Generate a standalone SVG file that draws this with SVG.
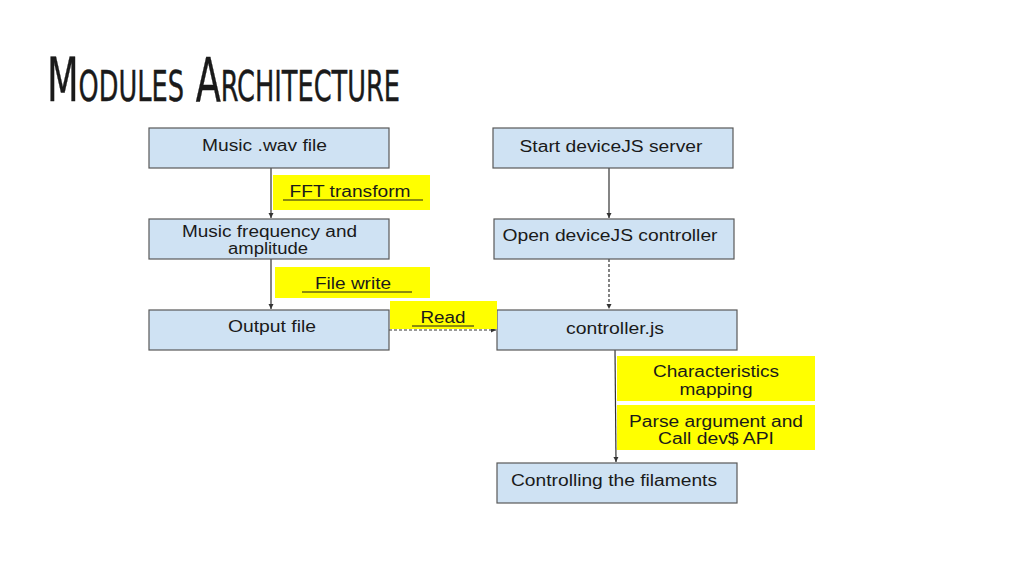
<svg xmlns="http://www.w3.org/2000/svg" width="1024" height="576" viewBox="0 0 1024 576">
<defs>
<marker id="ah" markerWidth="6" markerHeight="6" refX="5" refY="3" orient="auto" markerUnits="userSpaceOnUse">
<path d="M0,0.5 L5,3 L0,5.5 Z" fill="#333"/>
</marker>
<style>
.box{fill:#cfe2f3;stroke:#595959;stroke-width:1.2}
.lbl{fill:#ffff00}
.t{font-family:"Liberation Sans",Arial,sans-serif;font-size:16px;fill:#1a1a1a;text-anchor:middle}
.u{stroke:#1a1a1a;stroke-width:1}
.c{stroke:#333;stroke-width:1.2;fill:none}
.d{stroke-dasharray:3,2}
</style>
</defs>
<rect width="1024" height="576" fill="#ffffff"/>
<text x="47" y="101" font-family="'Liberation Sans Narrow','DejaVu Sans Condensed',sans-serif" font-size="60" font-variant="small-caps" fill="#1a1a1a" stroke="#1a1a1a" stroke-width="0.4" textLength="353" lengthAdjust="spacingAndGlyphs">Modules Architecture</text>

<g id="connectors">
<line class="c" x1="271" y1="168" x2="271" y2="218" marker-end="url(#ah)"/>
<line class="c" x1="271" y1="259" x2="271" y2="309" marker-end="url(#ah)"/>
<line class="c d" x1="389" y1="330" x2="496" y2="330" marker-end="url(#ah)"/>
<line class="c" x1="609" y1="168" x2="609" y2="218" marker-end="url(#ah)"/>
<line class="c d" x1="609" y1="259" x2="609" y2="309" marker-end="url(#ah)"/>
<line class="c" x1="615" y1="350" x2="616" y2="462" marker-end="url(#ah)"/>
</g>

<g id="music-wav"><rect class="box" x="149" y="128" width="240" height="40"/><text class="t" x="264.5" y="151" textLength="125" lengthAdjust="spacingAndGlyphs">Music .wav file</text></g>
<g id="music-freq"><rect class="box" x="149" y="219" width="240" height="40"/><text class="t" x="269.5" y="237" textLength="175" lengthAdjust="spacingAndGlyphs">Music frequency and</text><text class="t" x="268" y="254" textLength="80" lengthAdjust="spacingAndGlyphs">amplitude</text></g>
<g id="output-file"><rect class="box" x="149" y="310" width="240" height="40"/><text class="t" x="272" y="332" textLength="88" lengthAdjust="spacingAndGlyphs">Output file</text></g>
<g id="start-server"><rect class="box" x="493" y="128" width="240" height="40"/><text class="t" x="611" y="152" textLength="183" lengthAdjust="spacingAndGlyphs">Start deviceJS server</text></g>
<g id="open-controller"><rect class="box" x="494" y="219" width="240" height="40"/><text class="t" x="610" y="241" textLength="215" lengthAdjust="spacingAndGlyphs">Open deviceJS controller</text></g>
<g id="controller-js"><rect class="box" x="497" y="310" width="240" height="40"/><text class="t" x="615" y="334" textLength="98" lengthAdjust="spacingAndGlyphs">controller.js</text></g>
<g id="controlling"><rect class="box" x="497" y="463" width="240" height="40"/><text class="t" x="614" y="486" textLength="206" lengthAdjust="spacingAndGlyphs">Controlling the filaments</text></g>

<g id="fft"><rect class="lbl" x="273" y="175" width="157" height="35"/><text class="t" x="350" y="197" textLength="121" lengthAdjust="spacingAndGlyphs">FFT transform</text><line class="u" x1="283" y1="200" x2="423" y2="200"/></g>
<g id="file-write"><rect class="lbl" x="275" y="267" width="155" height="31"/><text class="t" x="353" y="289" textLength="76" lengthAdjust="spacingAndGlyphs">File write</text><line class="u" x1="302" y1="292" x2="412" y2="292"/></g>
<g id="read"><rect class="lbl" x="390" y="301" width="107" height="28"/><text class="t" x="443" y="323" textLength="45" lengthAdjust="spacingAndGlyphs">Read</text><line class="u" x1="412" y1="326" x2="474" y2="326"/></g>
<g id="char-map"><rect class="lbl" x="617" y="356" width="198" height="45"/><text class="t" x="716" y="377" textLength="126" lengthAdjust="spacingAndGlyphs">Characteristics</text><text class="t" x="716" y="395" textLength="73" lengthAdjust="spacingAndGlyphs">mapping</text></g>
<g id="parse"><rect class="lbl" x="617" y="405" width="198" height="45"/><text class="t" x="716" y="427" textLength="174" lengthAdjust="spacingAndGlyphs">Parse argument and</text><text class="t" x="716" y="444" textLength="116" lengthAdjust="spacingAndGlyphs">Call dev$ API</text></g>
</svg>
